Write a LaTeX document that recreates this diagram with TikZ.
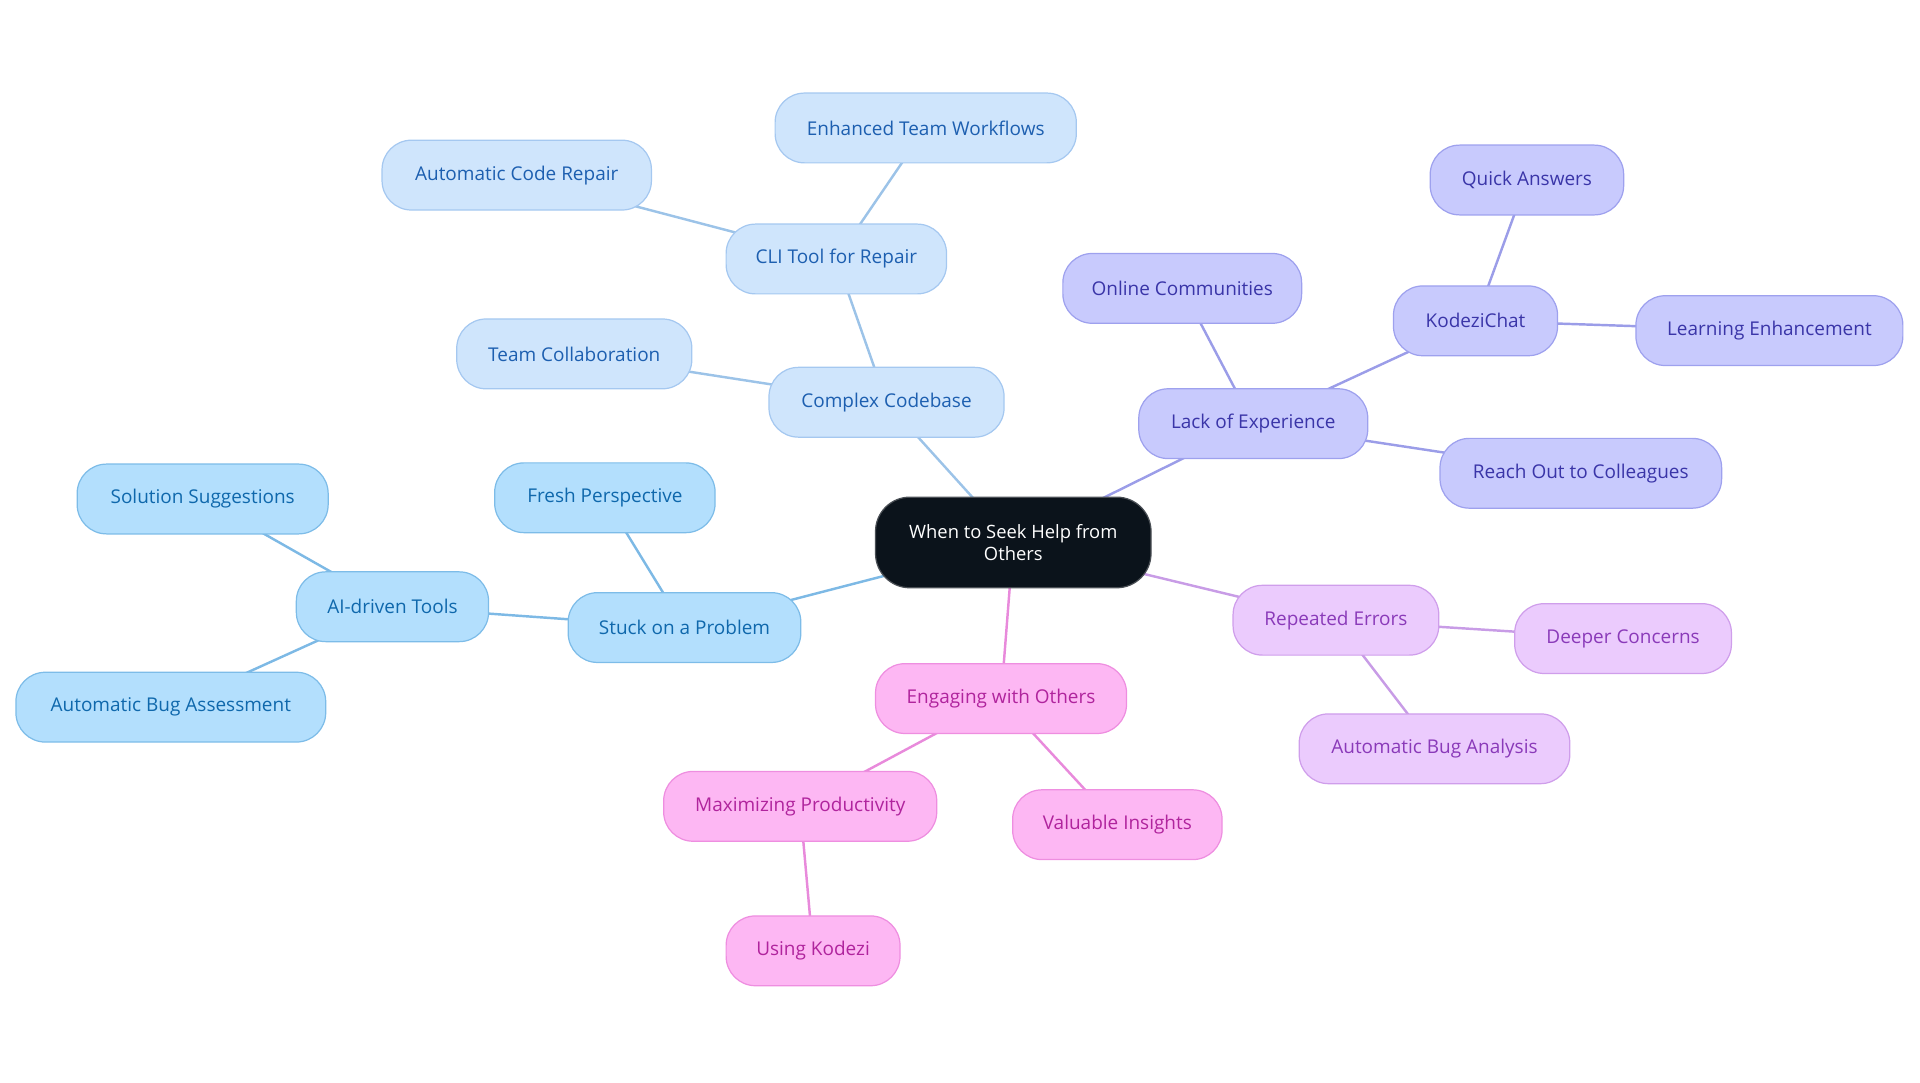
\documentclass[tikz,border=0pt]{standalone}
\usepackage{fontspec}
\setmainfont{Open Sans}
\usetikzlibrary{backgrounds}
\definecolor{rootfill}{HTML}{0B131B}
\definecolor{rootdraw}{HTML}{4A4F55}
\definecolor{afill}{HTML}{CFE5FC}\definecolor{adraw}{HTML}{A5C8F0}\definecolor{atext}{HTML}{1D5FB0}\definecolor{aedge}{HTML}{9CC3E8}
\definecolor{bfill}{HTML}{B3DFFD}\definecolor{bdraw}{HTML}{7DBCE8}\definecolor{btext}{HTML}{0F68AC}\definecolor{bedge}{HTML}{7DB9E5}
\definecolor{cfill}{HTML}{C8CAFD}\definecolor{cdraw}{HTML}{9EA1EE}\definecolor{ctext}{HTML}{3A35A8}\definecolor{cedge}{HTML}{9B9DE8}
\definecolor{dfill}{HTML}{EBCBFD}\definecolor{ddraw}{HTML}{CF9EEB}\definecolor{dtext}{HTML}{8A3AB9}\definecolor{dedge}{HTML}{C89CE6}
\definecolor{efill}{HTML}{FDB7F3}\definecolor{edraw}{HTML}{EE8EE0}\definecolor{etext}{HTML}{B0249D}\definecolor{eedge}{HTML}{E88ADB}
\tikzset{
  box/.style={rectangle, rounded corners=24pt, minimum height=57pt, inner sep=0pt, line width=1pt, font=\fontsize{15.5}{18}\selectfont},
  ga/.style={box, fill=afill, draw=adraw, text=atext},
  gb/.style={box, fill=bfill, draw=bdraw, text=btext},
  gc/.style={box, fill=cfill, draw=cdraw, text=ctext},
  gd/.style={box, fill=dfill, draw=ddraw, text=dtext},
  ge/.style={box, fill=efill, draw=edraw, text=etext},
  rootbox/.style={rectangle, rounded corners=28pt, minimum width=225pt, minimum height=74pt, inner sep=0pt, fill=rootfill, draw=rootdraw, line width=1pt, text=white, align=center, font=\fontsize{15}{17.5}\selectfont},
  ea/.style={draw=aedge, line width=2pt},
  eb/.style={draw=bedge, line width=2pt},
  ec/.style={draw=cedge, line width=2pt},
  ed/.style={draw=dedge, line width=2pt},
  ee/.style={draw=eedge, line width=2pt},
}
\begin{document}
\begin{tikzpicture}[x=1pt,y=-1pt]
\useasboundingbox (0,0) rectangle (1568,884);
\node[rootbox] (root) at (827.5,443) {When to Seek Help from\\Others};
% group a
\node[ga, minimum width=192pt] (cc) at (724,328.5) {Complex Codebase};
\node[ga, minimum width=180pt] (cli) at (683,211.5) {CLI Tool for Repair};
\node[ga, minimum width=246pt] (etw) at (756,104.5) {Enhanced Team Workflows};
\node[ga, minimum width=220pt] (acr) at (422,143) {Automatic Code Repair};
\node[ga, minimum width=192pt] (tc) at (469,289) {Team Collaboration};
% group b
\node[gb, minimum width=190pt] (stuck) at (559,512.5) {Stuck on a Problem};
\node[gb, minimum width=180pt] (fp) at (494,406.5) {Fresh Perspective};
\node[gb, minimum width=157pt] (ai) at (320.5,495.5) {AI-driven Tools};
\node[gb, minimum width=205pt] (ss) at (165.5,407.5) {Solution Suggestions};
\node[gb, minimum width=253pt] (aba) at (139.5,577.5) {Automatic Bug Assessment};
% group c
\node[gc, minimum width=187pt] (lack) at (1023.5,346) {Lack of Experience};
\node[gc, minimum width=195pt] (oc) at (965.5,235.5) {Online Communities};
\node[gc, minimum width=134pt] (kc) at (1205,262) {KodeziChat};
\node[gc, minimum width=158pt] (qa) at (1247,147) {Quick Answers};
\node[gc, minimum width=218pt] (le) at (1445,270) {Learning Enhancement};
\node[gc, minimum width=230pt] (roc) at (1291,386.5) {Reach Out to Colleagues};
% group d
\node[gd, minimum width=168pt] (re) at (1091,506.5) {Repeated Errors};
\node[gd, minimum width=177pt] (dc) at (1325.5,521.5) {Deeper Concerns};
\node[gd, minimum width=221pt] (ban) at (1171.5,611.5) {Automatic Bug Analysis};
% group e
\node[ge, minimum width=205pt] (eng) at (817.5,570.5) {Engaging with Others};
\node[ge, minimum width=223pt] (mp) at (653.5,658.5) {Maximizing Productivity};
\node[ge, minimum width=171pt] (vi) at (912.5,673.5) {Valuable Insights};
\node[ge, minimum width=142pt] (uk) at (664,776.5) {Using Kodezi};
\begin{scope}[on background layer]
\draw[ea] (root.center) -- (cc.center);
\draw[ea] (cc.center) -- (cli.center);
\draw[ea] (cc.center) -- (tc.center);
\draw[ea] (cli.center) -- (etw.center);
\draw[ea] (cli.center) -- (acr.center);
\draw[eb] (root.center) -- (stuck.center);
\draw[eb] (stuck.center) -- (fp.center);
\draw[eb] (stuck.center) -- (ai.center);
\draw[eb] (ai.center) -- (ss.center);
\draw[eb] (ai.center) -- (aba.center);
\draw[ec] (root.center) -- (lack.center);
\draw[ec] (lack.center) -- (oc.center);
\draw[ec] (lack.center) -- (kc.center);
\draw[ec] (lack.center) -- (roc.center);
\draw[ec] (kc.center) -- (qa.center);
\draw[ec] (kc.center) -- (le.center);
\draw[ed] (root.center) -- (re.center);
\draw[ed] (re.center) -- (dc.center);
\draw[ed] (re.center) -- (ban.center);
\draw[ee] (root.center) -- (eng.center);
\draw[ee] (eng.center) -- (mp.center);
\draw[ee] (eng.center) -- (vi.center);
\draw[ee] (mp.center) -- (uk.center);
\end{scope}
\end{tikzpicture}
\end{document}
